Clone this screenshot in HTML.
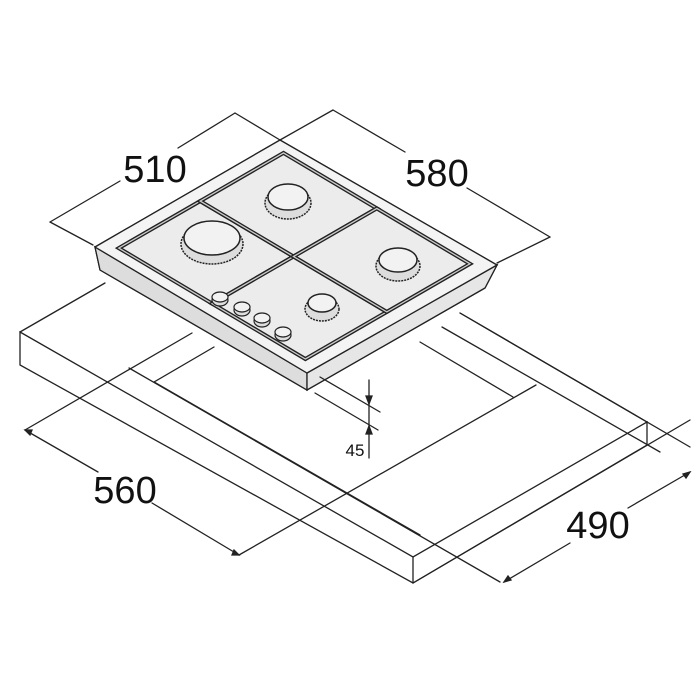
<!DOCTYPE html>
<html><head><meta charset="utf-8"><style>
html,body{margin:0;padding:0;background:#fff;width:700px;height:700px;overflow:hidden}
svg{display:block}
text{font-family:"Liberation Sans",sans-serif;fill:#111}
</style></head><body>
<svg id="s" width="700" height="700" viewBox="0 0 700 700" xmlns="http://www.w3.org/2000/svg">
<g stroke="#222" stroke-width="1.3" fill="none" stroke-linecap="round">
<polygon points="20,332 413,557 647,422 647,445 413,583 20,365" fill="#fff"/>
<line x1="413" y1="557" x2="413" y2="583"/>
<line x1="20" y1="332" x2="105" y2="283"/>
<line x1="647" y1="422" x2="460" y2="313"/>
<line x1="25" y1="430" x2="192" y2="333"/>
<line x1="154" y1="382" x2="214" y2="347"/>
<line x1="129" y1="368" x2="500" y2="582"/>
<line x1="154" y1="382" x2="420" y2="535"/>
<line x1="239" y1="555" x2="536" y2="385"/>
<line x1="420" y1="342" x2="513" y2="397"/>
<line x1="442" y1="327" x2="660" y2="452"/>
<line x1="460" y1="313" x2="690" y2="447"/>
<line x1="413" y1="583" x2="690" y2="420"/>
<line x1="25" y1="430" x2="98" y2="472"/>
<line x1="152" y1="503" x2="239" y2="555"/>
<polygon points="25,430 32,430 30,435" fill="#222"/>
<polygon points="239,555 232,555 234,550" fill="#222"/>
<line x1="504" y1="582" x2="570" y2="543"/>
<line x1="628" y1="508" x2="690" y2="472"/>
<polygon points="504,582 508,576 511,580" fill="#222"/>
<polygon points="690,472 686,478 683,474" fill="#222"/>
<polygon points="95,247 280,140 497,265 485,288 307,390 100,270" fill="#eee"/>
<polygon points="95,247 307,373 307,390 100,270" fill="#ddd"/>
<polygon points="307,373 497,265 485,288 307,390" fill="#e6e6e6"/>
<polygon points="95,247 280,140 497,265 307,373" fill="#f4f4f4"/>
<line x1="50" y1="222" x2="120" y2="181"/>
<line x1="178" y1="148" x2="235" y2="113"/>
<line x1="50" y1="222" x2="93" y2="245"/>
<line x1="235" y1="113" x2="280" y2="140"/>
<line x1="333" y1="110" x2="280" y2="140"/>
<line x1="333" y1="110" x2="405" y2="152"/>
<line x1="467" y1="188" x2="550" y2="237"/>
<line x1="550" y1="237" x2="497" y2="263"/>
<line x1="320" y1="377" x2="380" y2="412"/>
<line x1="315" y1="393" x2="378" y2="430"/>
<line x1="369" y1="380" x2="369" y2="458"/>
<polygon points="369,404 366,396 372,396" fill="#222"/>
<polygon points="369,426 366,434 372,434" fill="#222"/>
</g>
<g id="hob"></g>
<text x="155" y="182" font-size="38" text-anchor="middle">510</text>
<text x="437" y="186" font-size="38" text-anchor="middle">580</text>
<text x="125" y="503" font-size="38" text-anchor="middle">560</text>
<text x="598" y="538" font-size="38" text-anchor="middle">490</text>
<text x="355" y="456" font-size="17" text-anchor="middle">45</text>
</svg>
<script>
var L=[95,247],u=[185,-107],v=[212,126];
function P(s,t){return [L[0]+s*u[0]+t*v[0],L[1]+s*u[1]+t*v[1]];}
function pts(a){return a.map(function(p){return p[0].toFixed(1)+","+p[1].toFixed(1)}).join(" ")}
var g=document.getElementById("hob"),h="";
var ss=[[0.06,0.5],[0.5,0.95]],ts=[[0.06,0.5],[0.5,0.94]];
ss.forEach(function(S){ts.forEach(function(T){
 var q=[P(S[0],T[0]),P(S[1],T[0]),P(S[1],T[1]),P(S[0],T[1])];
 h+='<polygon points="'+pts(q)+'" fill="#ececec" stroke="#222" stroke-width="4"/>';
 h+='<polygon points="'+pts(q)+'" fill="none" stroke="#ccc" stroke-width="1.3"/>';
});});
[[212,238,28,17],[288,197,20,13],[398,260,19,12],[322,303,14,9]].forEach(function(b){
 h+='<ellipse cx="'+b[0]+'" cy="'+(b[1]+6)+'" rx="'+(b[2]+3)+'" ry="'+(b[3]+3)+'" fill="#ddd" stroke="#222" stroke-width="1.5" stroke-dasharray="2 1"/>';
 h+='<ellipse cx="'+b[0]+'" cy="'+b[1]+'" rx="'+b[2]+'" ry="'+b[3]+'" fill="#f2f2f2" stroke="#222" stroke-width="1.5"/>';
});
[[220,297],[242,307],[262,318],[283,332]].forEach(function(k){
 h+='<ellipse cx="'+k[0]+'" cy="'+(k[1]+3)+'" rx="8" ry="6" fill="#ddd" stroke="#222" stroke-width="1.2"/>';
 h+='<ellipse cx="'+k[0]+'" cy="'+k[1]+'" rx="8" ry="5" fill="#f2f2f2" stroke="#222" stroke-width="1.2"/>';
});
g.innerHTML=h;
</script>
</body></html>
